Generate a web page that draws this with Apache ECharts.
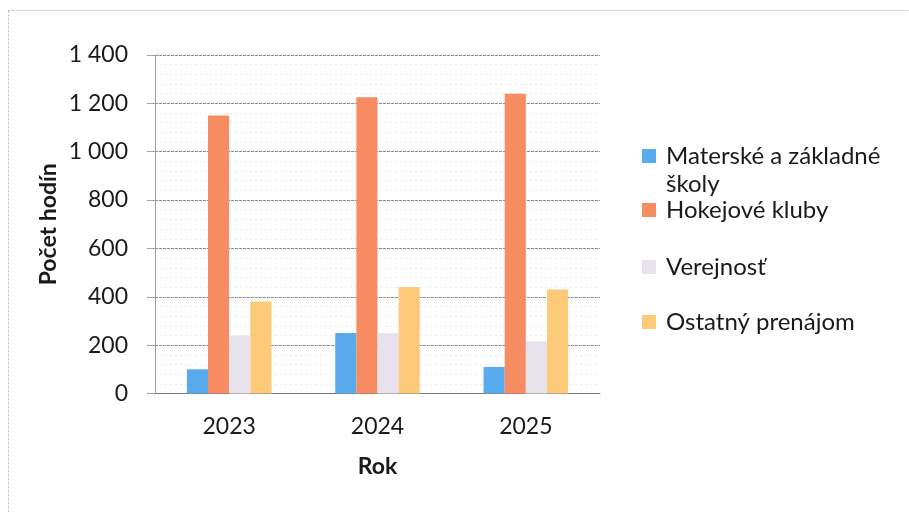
<!DOCTYPE html>
<html>
<head>
<meta charset="utf-8">
<script src="https://cdn.jsdelivr.net/npm/echarts@6/dist/echarts.min.js"></script>
<style>
html,body{margin:0;padding:0;background:#fff;}
#chart{width:909px;height:512px;}
</style>
</head>
<body>
<div id="chart"></div>
<script>
const categories = ['2023', '2024', '2025'];
const seriesNames = ['Materské a základné školy', 'Hokejové kluby', 'Verejnosť', 'Ostatný prenájom'];
const skoly = [100, 250, 110];
const kluby = [1150, 1225, 1240];
const verejnost = [240, 250, 215];
const prenajom = [380, 440, 430];
const yTickLabels = ['0', '200', '400', '600', '800', '1 000', '1 200', '1 400'];
const yAxisTitle = 'Počet hodín';
const xAxisTitle = 'Rok';

const colors = ['#5aabee', '#f78c62', '#e7e2ec', '#fcca79'];
const values = [skoly, kluby, verejnost, prenajom];
const FONT = 'Lato';

const legendText = {fontFamily: FONT, fontSize: 24, color: '#1a1a1a', lineHeight: 28, padding: [0, 0, 0, 5]};
function legendFor(idx, top, extra) {
  return Object.assign({
    data: [seriesNames[idx]],
    left: 642, top: top, padding: 0,
    orient: 'vertical',
    itemWidth: 14, itemHeight: 14, itemGap: 0,
    icon: 'rect',
    textStyle: legendText,
    selectedMode: false
  }, extra || {});
}

const chart = echarts.init(document.getElementById('chart'), null, {renderer: 'canvas'});
chart.setOption({
  animation: false,
  backgroundColor: '#ffffff',
  color: colors,
  textStyle: {fontFamily: FONT},
  grid: {left: 155, right: 309, top: 55, bottom: 118.5, containLabel: false},
  legend: [
    legendFor(0, 142, {
      itemHeight: 42,
      icon: 'path://M0,0H14V14H0Z M0,42H0.01V42.01H0Z',
      formatter: function (n) { return 'Materské a základné\nškoly'; }
    }),
    legendFor(1, 196),
    legendFor(2, 253),
    legendFor(3, 308)
  ],
  xAxis: {
    type: 'category',
    data: categories,
    axisLine: {show: true, lineStyle: {color: '#7a7a7a', width: 1}},
    axisTick: {show: false},
    axisLabel: {fontFamily: FONT, fontSize: 23, color: '#1a1a1a', margin: 22},
    name: xAxisTitle,
    nameLocation: 'middle',
    nameGap: 62,
    nameTextStyle: {fontFamily: FONT, fontSize: 23, fontWeight: 'bold', color: '#1a1a1a'}
  },
  yAxis: {
    type: 'value',
    min: 0, max: 1400, interval: 200,
    axisLine: {show: true, lineStyle: {color: '#a0a0a0', width: 1}},
    axisTick: {show: true, inside: false, length: 8, lineStyle: {color: '#a0a0a0'}},
    axisLabel: {
      fontFamily: FONT, fontSize: 23, color: '#1a1a1a', margin: 27,
      formatter: function (v) { return yTickLabels[Math.round(v / 200)]; }
    },
    splitLine: {show: true, lineStyle: {color: '#8a8a8a', width: 1, type: [3, 1]}},
    minorTick: {show: false, splitNumber: 5},
    minorSplitLine: {show: true, lineStyle: {color: '#ececec', width: 1, type: [2, 3]}},
    name: yAxisTitle,
    nameLocation: 'middle',
    nameGap: 95,
    nameRotate: 90,
    nameTextStyle: {fontFamily: FONT, fontSize: 23, fontWeight: 'bold', color: '#1a1a1a'}
  },
  series: values.map(function (vals, i) {
    return {
      name: seriesNames[i],
      type: 'bar',
      data: vals,
      barGap: '0%',
      barCategoryGap: '43%',
      itemStyle: {color: colors[i]}
    };
  }),
  graphic: [
    {type: 'line', shape: {x1: 8.5, y1: 10.5, x2: 909, y2: 10.5}, style: {stroke: '#b5b5c0', lineWidth: 1, lineDash: [2, 2]}},
    {type: 'line', shape: {x1: 8.5, y1: 10.5, x2: 8.5, y2: 512}, style: {stroke: '#b5b5c0', lineWidth: 1, lineDash: [2, 2]}}
  ]
});
</script>
</body>
</html>
